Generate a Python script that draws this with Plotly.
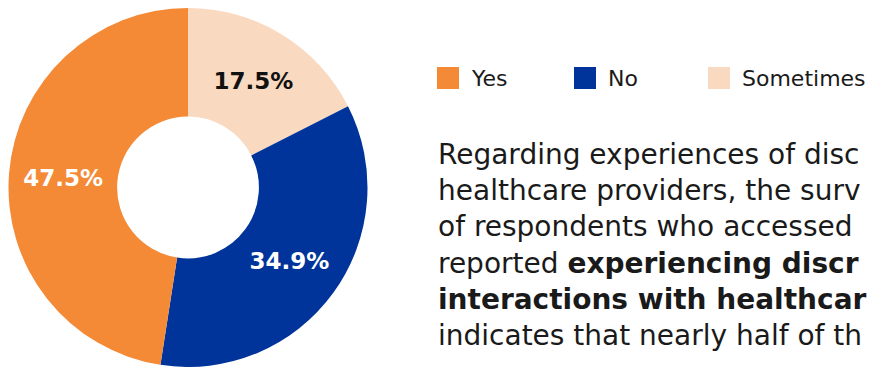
import plotly.graph_objects as go

# Survey responses: experienced discrimination from healthcare providers
categories = ["Yes", "No", "Sometimes"]
values = [47.5, 34.9, 17.5]
colors = ["#F48936", "#00349A", "#FAD9C1"]
label_colors = ["white", "white", "#111111"]

# Visible portion of the accompanying commentary, one entry per line
paragraph_lines = [
    "Regarding experiences of disc",
    "healthcare providers, the surv",
    "of respondents who accessed",
    "reported <b>experiencing discr</b>",
    "<b>interactions with healthcar</b>",
    "indicates that nearly half of th",
]

W, H = 870, 367
FONT = "DejaVu Sans"

# Slices run clockwise from 12 o'clock: Sometimes, No, Yes
fig = go.Figure(
    go.Pie(
        labels=categories[::-1],
        values=values[::-1],
        hole=0.395,
        sort=False,
        direction="clockwise",
        rotation=0,
        marker=dict(colors=colors[::-1], line=dict(width=0)),
        texttemplate="%{value:.1f}%",
        textposition="inside",
        insidetextorientation="horizontal",
        textfont=dict(family=FONT, size=23, color=label_colors[::-1], weight="bold"),
        hoverinfo="label+value",
        showlegend=False,
        domain=dict(x=[8.5 / W, 367.5 / W], y=[0, 1 - 8 / H]),
    )
)

# Custom horizontal legend with large square swatches
legend_x = [437, 574, 708]
swatch = 22
legend_top = 67
shapes = []
annotations = []
for name, col, lx in zip(categories, colors, legend_x):
    shapes.append(
        dict(
            type="rect", xref="paper", yref="paper",
            x0=lx / W, x1=(lx + swatch) / W,
            y0=1 - (legend_top + swatch) / H, y1=1 - legend_top / H,
            fillcolor=col, line=dict(width=0),
        )
    )
    annotations.append(
        dict(
            text=name, xref="paper", yref="paper",
            x=(lx + swatch + 10) / W, y=1 - (legend_top + swatch / 2 + 1) / H,
            xanchor="left", yanchor="middle", showarrow=False,
            font=dict(family=FONT, size=22, color="#1a1a1a"),
        )
    )

# Commentary text, one annotation per line for even spacing
first_top = 136
line_gap = 36.2
for k, line in enumerate(paragraph_lines):
    annotations.append(
        dict(
            text=line,
            xref="paper", yref="paper",
            x=436 / W, y=1 - (first_top + k * line_gap) / H,
            xanchor="left", yanchor="top", align="left",
            showarrow=False,
            font=dict(family=FONT, size=28, color="#1a1a1a"),
        )
    )

fig.update_layout(
    width=W, height=H,
    margin=dict(l=0, r=0, t=0, b=0),
    paper_bgcolor="white",
    plot_bgcolor="white",
    shapes=shapes,
    annotations=annotations,
)

fig.write_html("out.html", config={"displayModeBar": False})
